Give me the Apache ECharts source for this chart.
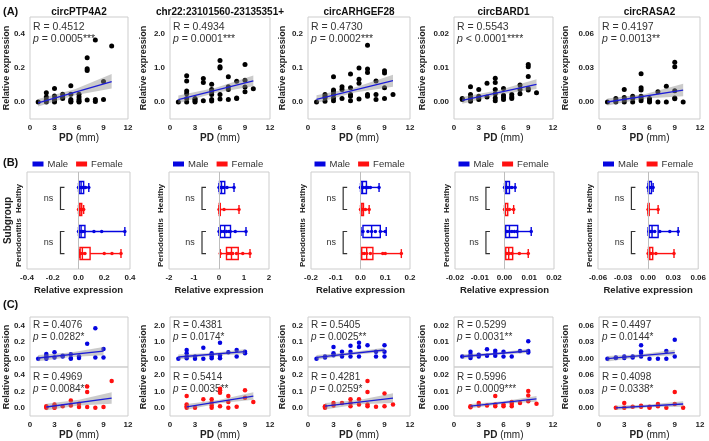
<!DOCTYPE html>
<html><head><meta charset="utf-8">
<script src="https://cdn.jsdelivr.net/npm/echarts@6/dist/echarts.min.js"></script>
<style>html,body{margin:0;padding:0;background:#fff}#c{width:709px;height:441px}</style>
</head><body><div id="c"></div>
<script>
// ---------------- DATA ----------------
const genes = ['circPTP4A2','chr22:23101560-23135351+','circARHGEF28','circBARD1','circRASA2'];
const pdTicks = [0,3,6,9,12];
const exprRange = [[-0.1,0.5],[-0.5,2.5],[-0.05,0.25],[-0.005,0.025],[-0.015,0.075]];
const exprTicks = [[0,0.2,0.4],[0,1,2],[0,0.1,0.2],[0,0.01,0.02],[0,0.03,0.06]];
const exprDecimals = [1,1,1,2,2];

// Panel A: PD (mm) vs relative expression, all patients
const scatterA1 = [[1,0],[2,0.054],[2,0.03],[2,0.012],[2,0],[3,0.08],[3,0.035],[3,0.018],[3,0.008],[3,0],[4,0.045],[4,0.03],[4,0.02],[5,0.095],[5,0.045],[5,0.015],[5,0.005],[5,0],[6,0.045],[6,0.03],[6,0.015],[6,0.005],[6,0],[7,0.26],[7,0.195],[7,0.185],[7,0.012],[8,0.365],[8,0.015],[8,0.003],[9,0.12],[9,0.015],[10,0.33]];
const scatterA2 = [[1,0],[2,0.77],[2,0.62],[2,0.32],[2,0.24],[2,0.1],[2,0],[3,0.1],[3,0.07],[3,0.03],[3,0],[4,0.69],[4,0.57],[4,0.04],[5,0.52],[5,0.37],[5,0.3],[5,0.22],[5,0.07],[5,0.03],[6,1.22],[6,1.04],[6,1.0],[6,0.22],[6,0.09],[7,0.74],[7,0.45],[7,0.37],[7,0.07],[8,0.61],[8,0.12],[8,0.1],[9,1.1],[9,0.64],[9,0.44],[9,0.3],[10,0.39]];
const scatterA3 = [[1,0],[2,0.022],[2,0.017],[2,0.012],[2,0.002],[3,0.074],[3,0.035],[3,0.03],[3,0.022],[3,0.012],[3,0.004],[4,0.045],[4,0.037],[4,0.01],[5,0.082],[5,0.042],[5,0.022],[5,0.017],[5,0.004],[6,0.1],[6,0.067],[6,0.055],[6,0.009],[7,0.167],[7,0.097],[7,0.087],[7,0.022],[7,0.017],[8,0.062],[8,0.022],[8,0.007],[9,0.092],[9,0.085],[9,0.042],[9,0.01],[10,0.022]];
const scatterA4 = [[1,0.001],[1,0.0007],[2,0.0045],[2,0.0022],[2,0.0014],[2,0.0007],[2,0.0002],[3,0.0037],[3,0.0017],[3,0.0012],[3,0.0007],[4,0.0055],[4,0.0015],[5,0.007],[5,0.0057],[5,0.0037],[5,0.0024],[5,0.0012],[5,0.0004],[6,0.004],[6,0.002],[6,0.0014],[6,0.0007],[7,0.0022],[7,0.0015],[7,0.001],[8,0.005],[8,0.0037],[8,0.0024],[9,0.011],[9,0.0104],[9,0.0075],[9,0.004],[9,0.0035],[10,0.0027]];
const scatterA5 = [[1,0],[2,0.003],[2,0.0012],[2,0],[3,0.011],[3,0.004],[3,0.002],[3,0],[4,0.005],[4,0.003],[4,0],[5,0.025],[5,0.0125],[5,0.0105],[5,0.005],[5,0.003],[5,0.001],[6,0.003],[6,0.001],[6,0],[7,0.009],[7,0],[8,0.014],[8,0],[9,0.035],[9,0.031],[9,0.01],[9,0.0035],[9,0.0028],[10,0]];
const fitA = [[[1,-0.005],[10,0.12]],[[1,0.07],[10,0.62]],[[1,0.008],[10,0.063]],[[1,0.0005],[10,0.0052]],[[1,0.0],[10,0.0105]]];
const bandA = [
  [[1,-0.026,0.018],[5.5,0.04,0.075],[10,0.08,0.165]],
  [[1,-0.04,0.19],[5.5,0.27,0.42],[10,0.46,0.78]],
  [[1,-0.003,0.02],[5.5,0.028,0.043],[10,0.045,0.08]],
  [[1,-0.0005,0.0015],[5.5,0.0022,0.0035],[10,0.0038,0.0067]],
  [[1,-0.003,0.003],[5.5,0.003,0.007],[10,0.005,0.016]]
];
const rA = ['0.4512','0.4934','0.4730','0.5543','0.4197'];
const pA = ['= 0.0005***','= 0.0001***','= 0.0002***','< 0.0001****','= 0.0013**'];

// Panel B: boxplots by subgroup and sex  rows: Healthy-Male, Healthy-Female, Periodontitis-Male, Periodontitis-Female
const subgroupRange = [[-0.4,0.4],[-2,2],[-0.2,0.2],[-0.02,0.02],[-0.06,0.06]];
const subgroupStep = [0.2,1,0.1,0.01,0.03];
const subgroupDecimals = [1,0,1,2,2];
const boxB1 = [[0,0.005,0.02,0.04,0.08],[0,0.005,0.012,0.025,0.04],[0,0.005,0.02,0.05,0.36],[0.01,0.012,0.03,0.09,0.33]];
const boxB2 = [[0,0.02,0.1,0.23,0.6],[0,0.01,0.03,0.05,0.8],[0,0.05,0.23,0.46,1.08],[0.05,0.3,0.5,0.77,1.24]];
const boxB3 = [[0,0.002,0.008,0.024,0.075],[0,0.002,0.006,0.012,0.035],[0.002,0.01,0.045,0.08,0.104],[0.003,0.005,0.025,0.05,0.165]];
const boxB4 = [[0,0.0002,0.0008,0.002,0.0043],[0,0.0001,0.0004,0.0013,0.0037],[0.0002,0.0005,0.002,0.0053,0.0108],[0.0002,0.0005,0.0017,0.0033,0.0096]];
const boxB5 = [[0,0.0003,0.0012,0.004,0.006],[0,0.0001,0.0003,0.0008,0.012],[0,0.0012,0.0047,0.012,0.036],[0,0.0005,0.002,0.0055,0.031]];
const ptsB1 = [[0,0.005,0.01,0.02,0.03,0.045,0.055,0.08],[0,0.01,0.02,0.03,0.04],[0,0.01,0.02,0.03,0.045,0.12,0.18,0.36],[0.01,0.015,0.03,0.05,0.2,0.26,0.33]];
const ptsB2 = [[0,0.05,0.1,0.15,0.2,0.32,0.6],[0,0.03,0.2,0.8],[0,0.1,0.2,0.3,0.4,0.45,0.65,1.08],[0.05,0.35,0.45,0.55,0.7,0.95,1.24]];
const ptsB3 = [[0,0.005,0.01,0.02,0.03,0.04,0.075],[0,0.005,0.01,0.02,0.035],[0.01,0.03,0.045,0.06,0.08,0.1],[0.005,0.015,0.025,0.04,0.09,0.1,0.165]];
const ptsB4 = [[0,0.0005,0.001,0.002,0.003,0.0043],[0,0.0005,0.002,0.0037],[0.0005,0.001,0.002,0.003,0.004,0.005,0.0108],[0.0005,0.001,0.002,0.003,0.006,0.0096]];
const ptsB5 = [[0,0.001,0.002,0.004,0.006],[0,0.0005,0.012],[0.001,0.003,0.005,0.008,0.014,0.026,0.036],[0,0.001,0.003,0.005,0.0093,0.031]];
const bracketX = [-0.14,-0.68,-0.07,-0.0075,-0.02];
const groupLabels = ['Healthy','Periodontitis'];
const sexNames = ['Male','Female'];

// Panel C: split by sex (top: male, bottom: female)
const scatterC1M = [[1,0],[2,0.055],[2,0.035],[2,0.015],[2,0],[3,0.077],[3,0.015],[4,0.035],[4,0.027],[5,0.054],[5,0.008],[5,0],[6,0.027],[6,0.008],[7,0.18],[8,0.365],[8,0.015],[9,0.115],[9,0.015]];
const scatterC1F = [[2,0.02],[2,0.01],[2,0],[3,0.04],[3,0.02],[3,0.005],[3,0],[4,0.02],[5,0.09],[5,0.03],[6,0.05],[6,0.01],[7,0.26],[7,0.195],[7,0.01],[8,0],[9,0.01],[10,0.33]];
const scatterC2M = [[1,0],[2,0.52],[2,0.33],[2,0.13],[2,0.03],[3,0.13],[3,0],[4,0.65],[4,0],[5,0.33],[5,0.23],[5,0.13],[5,0.03],[6,0.96],[6,0.19],[6,0.03],[7,0.38],[8,0.52],[8,0.13],[9,0.42],[9,0.33]];
const scatterC2F = [[2,0.72],[2,0.2],[2,0.1],[2,0],[3,0],[4,0.52],[5,0.52],[5,0.31],[5,0.14],[5,0],[6,1.17],[6,1.07],[6,0.93],[6,0.1],[7,0.72],[7,0.35],[7,0],[8,0.06],[9,1.07],[9,0.62],[10,0.35]];
const scatterC3M = [[1,0],[2,0.013],[2,0.007],[3,0.07],[3,0.033],[3,0.02],[4,0.042],[4,0.013],[5,0.077],[5,0.042],[5,0.013],[6,0.096],[6,0.07],[6,0.013],[7,0.08],[8,0.042],[8,0.013],[9,0.08],[9,0.042],[9,0.013]];
const scatterC3F = [[2,0.01],[2,0.005],[2,0],[3,0.03],[3,0.015],[4,0.03],[5,0.052],[5,0.03],[5,0.01],[6,0.052],[6,0.02],[7,0.165],[7,0.097],[7,0.02],[7,0.01],[8,0.006],[9,0.087],[9,0.01],[10,0.02]];
const scatterC4M = [[1,0.0013],[2,0.0042],[2,0.0023],[2,0.0013],[2,0.0004],[3,0.0023],[3,0.0013],[4,0.0056],[4,0.0017],[5,0.0048],[5,0.0033],[5,0.0017],[6,0.0042],[6,0.0013],[7,0.0013],[8,0.0046],[9,0.0104],[9,0.0046],[9,0.0037]];
const scatterC4F = [[2,0.001],[2,0.0004],[3,0.003],[3,0.0015],[4,0.0015],[5,0.0072],[5,0.002],[5,0.001],[6,0.002],[6,0.001],[7,0.0035],[7,0.0025],[7,0.001],[8,0.003],[9,0.0103],[9,0.0076],[9,0.004],[10,0.0025]];
const scatterC5M = [[1,0],[2,0.001],[2,0.002],[3,0.004],[3,0.001],[4,0.004],[4,0.002],[5,0.024],[5,0.013],[5,0.01],[5,0.004],[6,0],[7,0],[8,0.014],[8,0],[9,0.034],[9,0.004]];
const scatterC5F = [[2,0],[3,0.009],[3,0],[4,0.002],[5,0.004],[5,0.002],[6,0.002],[6,0],[7,0.007],[7,0.003],[8,0],[9,0.029],[9,0.007],[10,0]];
const fitCM = [[[1,0.008],[9,0.09]],[[1,0.1],[9,0.42]],[[1,0.008],[9,0.052]],[[1,0.0013],[9,0.0046]],[[1,0],[9,0.011]]];
const fitCF = [[[2,0.01],[10,0.12]],[[2,0.06],[10,0.72]],[[2,0.01],[10,0.06]],[[2,0.001],[10,0.0055]],[[2,0],[10,0.007]]];
const bandCM = [
  [[1,-0.03,0.045],[5,0.02,0.075],[9,0.04,0.14]],
  [[1,-0.05,0.25],[5,0.18,0.34],[9,0.28,0.56]],
  [[1,-0.006,0.022],[5,0.022,0.038],[9,0.04,0.066]],
  [[1,0,0.0026],[5,0.0024,0.0036],[9,0.0034,0.0058]],
  [[1,-0.005,0.005],[5,0.003,0.008],[9,0.006,0.016]]
];
const bandCF = [
  [[2,-0.03,0.05],[6,0.03,0.1],[10,0.05,0.19]],
  [[2,-0.12,0.24],[6,0.28,0.5],[10,0.5,0.95]],
  [[2,-0.01,0.03],[6,0.022,0.048],[10,0.03,0.09]],
  [[2,-0.0003,0.0023],[6,0.0025,0.004],[10,0.0038,0.0072]],
  [[2,-0.004,0.004],[6,0.001,0.006],[10,0.002,0.012]]
];
const rCM = ['0.4076','0.4381','0.5405','0.5299','0.4497'];
const pCM = ['= 0.0282*','= 0.0174*','= 0.0025**','= 0.0031**','= 0.0144*'];
const rCF = ['0.4969','0.5414','0.4281','0.5996','0.4098'];
const pCF = ['= 0.0084**','= 0.0035**','= 0.0259*','= 0.0009***','= 0.0338*'];

// ---------------- LAYOUT / STYLE ----------------
const FONT = '"Liberation Sans", Arial, Helvetica, sans-serif';
const BLUE = '#0505e0', RED = '#ff1010', FITBLUE = '#1c1cd6';
const colLeft = [30,170,308,454,599], colWidth = [98,100,102,99,101];
const colLeftB = [27,169,311,455,598], colWidthB = [103,100,99,99,102];
const yNameGap = [23,26,25,31,33];
const rowPos = [0.75,1.25,1.75,2.25];
const scatterA = [scatterA1,scatterA2,scatterA3,scatterA4,scatterA5];
const boxB = [boxB1,boxB2,boxB3,boxB4,boxB5];
const ptsB = [ptsB1,ptsB2,ptsB3,ptsB4,ptsB5];
const scatterCM = [scatterC1M,scatterC2M,scatterC3M,scatterC4M,scatterC5M];
const scatterCF = [scatterC1F,scatterC2F,scatterC3F,scatterC4F,scatterC5F];

const lab = {fontSize:8, fontWeight:'bold', color:'#222', fontFamily:FONT};
const fmt = d => v => (Math.abs(v) < 1e-12 ? 0 : v).toFixed(d);
const grids=[], xAxes=[], yAxes=[], series=[], graphics=[], legends=[];

function addGrid(left, top, width, height){
  grids.push({left, top, width, height, show:true, borderColor:'#cdcdcd', borderWidth:1, backgroundColor:'rgba(0,0,0,0)', containLabel:false});
  return grids.length-1;
}
function pdAxis(gi, showLab){
  return {gridIndex:gi, type:'value', min:0, max:12, interval:3,
    axisLine:{show:false}, axisTick:{show:false}, splitLine:{show:false},
    axisLabel:{show:showLab, ...lab, margin:5},
    name: showLab ? '{b|PD} (mm)' : '', nameLocation:'middle', nameGap:14,
    nameTextStyle:{fontSize:10, color:'#222', fontFamily:FONT, rich:{b:{fontSize:10, fontWeight:'bold', color:'#222', fontFamily:FONT}}}};
}
function exprAxis(gi, k){
  return {gridIndex:gi, type:'value', min:exprRange[k][0], max:exprRange[k][1],
    axisLine:{show:false}, axisTick:{show:false}, splitLine:{show:false},
    axisLabel:{...lab, margin:5, customValues:exprTicks[k], formatter:fmt(exprDecimals[k])}};
}
function bandRender(band){
  return function(params, api){
    const up = band.map(b => api.coord([b[0], b[2]]));
    const lo = band.slice().reverse().map(b => api.coord([b[0], b[1]]));
    return {type:'polygon', shape:{points:up.concat(lo)}, style:{fill:'rgba(140,140,140,0.45)'}};
  };
}
function addRegression(gi, pts, color, fit, band, size){
  series.push({type:'scatter', xAxisIndex:gi, yAxisIndex:gi, data:pts, symbolSize:size, itemStyle:{color:color, opacity:1}, z:2, silent:true});
  series.push({type:'custom', xAxisIndex:gi, yAxisIndex:gi, data:[[fit[0][0], fit[0][1]]], renderItem:bandRender(band), z:3, silent:true});
  series.push({type:'line', xAxisIndex:gi, yAxisIndex:gi, data:fit, symbol:'none', lineStyle:{color:FITBLUE, width:1.3}, z:4, silent:true});
}
function annot(x, y, r, p, size){
  graphics.push({type:'text', x, y, style:{text:'R = '+r, fontSize:size, fontFamily:FONT, fill:'#333', verticalAlign:'middle'}});
  graphics.push({type:'text', x, y:y+12, style:{text:'{i|p} '+p, fontSize:size, fontFamily:FONT, fill:'#333', verticalAlign:'middle',
    rich:{i:{fontStyle:'italic', fontSize:size, fontFamily:FONT, fill:'#333'}}}});
}
function yName(x, y){
  graphics.push({type:'text', x, y, rotation:Math.PI/2, style:{text:'Relative expression', fontSize:9, fontWeight:'bold', fontFamily:FONT, fill:'#222', align:'center', verticalAlign:'middle'}});
}

// Panel labels
[['(A)',12],['(B)',163],['(C)',305]].forEach(([t,y]) => graphics.push({type:'text', x:3, y, style:{text:t, fontSize:11, fontWeight:'bold', fontFamily:FONT, fill:'#111', verticalAlign:'middle'}}));

// ---------- A ----------
for (let i=0;i<5;i++){
  const gi = addGrid(colLeft[i], 17, colWidth[i], 102);
  xAxes.push(pdAxis(gi, true));
  yAxes.push(exprAxis(gi, i));
  addRegression(gi, scatterA[i], '#000', fitA[i], bandA[i], 5);
  graphics.push({type:'text', x:colLeft[i]+colWidth[i]/2, y:12, style:{text:genes[i], fontSize:10, fontWeight:'bold', fontFamily:FONT, fill:'#111', align:'center', verticalAlign:'middle'}});
  annot(colLeft[i]+3, 27, rA[i], pA[i], 10.5);
  yName(colLeft[i]-yNameGap[i], 68);
}

// ---------- B ----------
function boxRender(color){
  return function(params, api){
    const p = api.value(0);
    const c = [1,2,3,4,5].map(k => api.coord([api.value(k), p]));
    const y = c[0][1], bh = 6, ch = 4.5;
    const st = {stroke:color, lineWidth:1.4, fill:null};
    return {type:'group', children:[
      {type:'line', shape:{x1:c[0][0], y1:y, x2:c[1][0], y2:y}, style:st},
      {type:'line', shape:{x1:c[3][0], y1:y, x2:c[4][0], y2:y}, style:st},
      {type:'line', shape:{x1:c[0][0], y1:y-ch, x2:c[0][0], y2:y+ch}, style:st},
      {type:'line', shape:{x1:c[4][0], y1:y-ch, x2:c[4][0], y2:y+ch}, style:st},
      {type:'rect', shape:{x:c[1][0], y:y-bh, width:Math.max(c[3][0]-c[1][0],1), height:2*bh}, style:{stroke:color, lineWidth:1.4, fill:'rgba(255,255,255,0)'}},
      {type:'line', shape:{x1:c[2][0], y1:y-bh, x2:c[2][0], y2:y+bh}, style:st}
    ]};
  };
}
function bracketRender(params, api){
  const a = api.coord([api.value(0), api.value(1)]);
  const b = api.coord([api.value(0), api.value(2)]);
  return {type:'group', children:[
    {type:'polyline', shape:{points:[[a[0]+4,a[1]],[a[0],a[1]],[b[0],b[1]],[b[0]+4,b[1]]]}, style:{stroke:'#333', lineWidth:1.2, fill:null}},
    {type:'text', x:a[0]-12, y:(a[1]+b[1])/2, style:{text:'ns', fontSize:9, fontFamily:FONT, fill:'#333', align:'center', verticalAlign:'middle'}}
  ]};
}
for (let i=0;i<5;i++){
  const gi = addGrid(colLeftB[i], 172, colWidthB[i], 97);
  xAxes.push({gridIndex:gi, type:'value', min:subgroupRange[i][0], max:subgroupRange[i][1], interval:subgroupStep[i],
    axisLine:{show:false}, axisTick:{show:false}, splitLine:{show:false},
    axisLabel:{...lab, margin:5, formatter:fmt(subgroupDecimals[i])},
    name:'Relative expression', nameLocation:'middle', nameGap:16,
    nameTextStyle:{fontSize:9.5, fontWeight:'bold', color:'#222', fontFamily:FONT}});
  yAxes.push({gridIndex:gi, type:'value', inverse:true, min:0.4, max:2.6,
    axisLine:{show:false}, axisTick:{show:false}, splitLine:{show:false},
    axisLabel:{...lab, margin:4, rotate:90, customValues:[1,2], formatter:v => groupLabels[Math.round(v)-1]},
    name: i===0 ? 'Subgroup' : '', nameLocation:'middle', nameGap:14, nameRotate:90,
    nameTextStyle:{fontSize:10, fontWeight:'bold', color:'#222', fontFamily:FONT}});
  for (let s=0;s<2;s++){
    const color = s===0 ? BLUE : RED;
    const rows = [s, s+2];
    series.push({type:'custom', name:sexNames[s], xAxisIndex:gi, yAxisIndex:gi, itemStyle:{color},
      data: rows.map(r => [rowPos[r]].concat(boxB[i][r])), renderItem:boxRender(color), z:3, silent:true});
    const pts = [];
    rows.forEach(r => ptsB[i][r].forEach(v => pts.push([v, rowPos[r]])));
    series.push({type:'scatter', name:sexNames[s]+' points', xAxisIndex:gi, yAxisIndex:gi, data:pts, symbolSize:3.5, itemStyle:{color, opacity:1}, z:4, silent:true,
      markLine: s===0 ? {silent:true, symbol:'none', label:{show:false}, lineStyle:{color:'#bdbdbd', type:'solid', width:1}, data:[{xAxis:0}]} : undefined});
  }
  series.push({type:'custom', xAxisIndex:gi, yAxisIndex:gi, data:[[bracketX[i], rowPos[0], rowPos[1]],[bracketX[i], rowPos[2], rowPos[3]]], renderItem:bracketRender, z:5, silent:true, clip:false});
  legends.push({show:true, left: colLeftB[i]+colWidthB[i]/2-46, top:159, padding:0, itemGap:8, itemWidth:11, itemHeight:5, icon:'rect', selectedMode:false,
    textStyle:{fontSize:9.5, color:'#333', fontFamily:FONT, padding:[0,0,0,-1]},
    data:[{name:'Male', itemStyle:{color:BLUE}}, {name:'Female', itemStyle:{color:RED}}]});
}

// ---------- C ----------
for (let i=0;i<5;i++){
  const gt = addGrid(colLeft[i], 317, colWidth[i], 50);
  xAxes.push(pdAxis(gt, false));
  yAxes.push(exprAxis(gt, i));
  addRegression(gt, scatterCM[i], BLUE, fitCM[i], bandCM[i], 4.5);
  annot(colLeft[i]+3, 325, rCM[i], pCM[i], 10);
}
for (let i=0;i<5;i++){
  const gb = addGrid(colLeft[i], 367, colWidth[i], 51);
  xAxes.push(pdAxis(gb, true));
  yAxes.push(exprAxis(gb, i));
  addRegression(gb, scatterCF[i], RED, fitCF[i], bandCF[i], 4.5);
  annot(colLeft[i]+3, 377, rCF[i], pCF[i], 10);
  yName(colLeft[i]-yNameGap[i], 367);
}

const chart = echarts.init(document.getElementById('c'), null, {renderer:'canvas', width:709, height:441});
chart.setOption({
  animation:false,
  backgroundColor:'#ffffff',
  textStyle:{fontFamily:FONT},
  grid:grids, xAxis:xAxes, yAxis:yAxes, legend:legends, series:series, graphic:graphics
});
</script></body></html>
